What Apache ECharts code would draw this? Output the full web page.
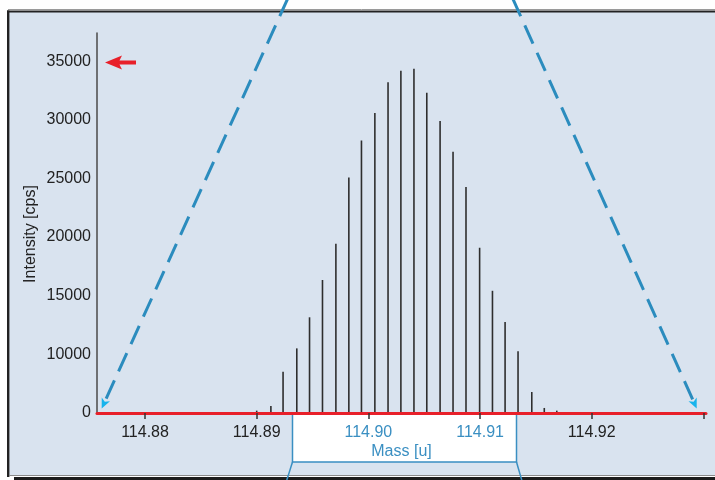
<!DOCTYPE html>
<html>
<head>
<meta charset="utf-8">
<script src="https://cdn.jsdelivr.net/npm/echarts@6/dist/echarts.min.js"></script>
<style>
html,body{margin:0;padding:0;background:#ffffff;}
#chart{width:715px;height:480px;}
</style>
</head>
<body>
<div id="chart"></div>
<script>
// ---- data ----
const peakMass = [
  114.89000, 114.89127, 114.89236, 114.89359, 114.89473, 114.89589,
  114.89709, 114.89825, 114.89938, 114.90058, 114.90176, 114.90291,
  114.90408, 114.90523, 114.90642, 114.90758, 114.90874, 114.90996,
  114.91111, 114.91224, 114.91340, 114.91463, 114.91575, 114.91687
];
const peakIntensity = [
  200, 600, 3520, 5510, 8160, 11340,
  14430, 20090, 23240, 25570, 28210, 29180,
  29350, 27300, 24890, 22270, 19260, 14090,
  10420, 7760, 5260, 1790, 430, 200
];
const xTickValues = [114.88, 114.89, 114.90, 114.91, 114.92, 114.93];
const xLabelValues = [114.88, 114.89, 114.90, 114.91, 114.92];
const xHighlightedLabels = [114.90, 114.91];
const yTickValues = [0, 5000, 10000, 15000, 20000, 25000, 30000];
const yTickLabels = ['0', '10000', '15000', '20000', '25000', '30000', '35000'];
const xAxisName = 'Mass [u]';
const yAxisName = 'Intensity [cps]';

// ---- styling ----
const FONT = "'Liberation Sans Narrow', 'Arial Narrow', 'Liberation Sans', sans-serif";
const DARK = '#222222';
const BLUE = '#3a8fc2';
const RED = '#e8202a';
const DASH = '#2b8cbe';
const CYAN = '#18b4ec';

const seriesData = peakMass.map((m, i) => [m, peakIntensity[i]]);

function arrowHead(x1, y1, x2, y2, len, half) {
  const dx = x2 - x1, dy = y2 - y1;
  const L = Math.sqrt(dx * dx + dy * dy);
  const ux = dx / L, uy = dy / L;
  const bx = x2 - ux * len, by = y2 - uy * len;
  const px = -uy, py = ux;
  return [[x2, y2], [bx + px * half, by + py * half], [bx + ux * 2.5, by + uy * 2.5], [bx - px * half, by - py * half]];
}
function shorten(x1, y1, x2, y2, d) {
  const dx = x2 - x1, dy = y2 - y1;
  const L = Math.sqrt(dx * dx + dy * dy);
  return [x2 - dx / L * d, y2 - dy / L * d];
}
const L0 = [288, -2], L1 = [101.7, 408.5];
const R0 = [512.5, -2], R1 = [696.7, 408.5];
const Lend = shorten(L0[0], L0[1], L1[0], L1[1], 6);
const Rend = shorten(R0[0], R0[1], R1[0], R1[1], 6);

const chart = echarts.init(document.getElementById('chart'), null, {renderer: 'canvas'});
chart.setOption({
  backgroundColor: '#ffffff',
  animation: false,
  grid: {left: 97, right: 9, top: 33, bottom: 67, containLabel: false},
  xAxis: {
    type: 'value',
    min: 114.87570,
    max: 114.93023,
    z: 3,
    splitLine: {show: false},
    axisLine: {show: true, onZero: false, lineStyle: {color: RED, width: 3}},
    axisTick: {show: true, customValues: xTickValues, length: 6, inside: false,
      lineStyle: {color: '#333333', width: 1.5}},
    axisLabel: {
      customValues: xLabelValues,
      margin: 12,
      fontSize: 16,
      fontFamily: FONT,
      formatter: function (v) { return Number(v).toFixed(2); },
      color: function (v) {
        const n = Number(v);
        return xHighlightedLabels.some(h => Math.abs(h - n) < 1e-6) ? BLUE : DARK;
      }
    }
  },
  yAxis: {
    type: 'value',
    min: 0,
    max: 32400,
    z: 3,
    splitLine: {show: false},
    axisLine: {show: true, lineStyle: {color: '#4a4a4a', width: 1.5}},
    axisTick: {show: false},
    axisLabel: {
      customValues: yTickValues,
      margin: 6,
      fontSize: 16,
      fontFamily: FONT,
      color: DARK,
      formatter: function (v) { return yTickLabels[Math.round(Number(v) / 5000)]; }
    }
  },
  series: [{
    type: 'bar',
    data: seriesData,
    barWidth: 1.6,
    itemStyle: {color: '#2e2e2e'},
    z: 2,
    silent: true
  }],
  graphic: [
    // panel background and frame
    {type: 'rect', z: -20, silent: true, shape: {x: 8, y: 11, width: 707, height: 465}, style: {fill: '#d9e3ef'}},
    {type: 'line', z: -19, silent: true, shape: {x1: 8, y1: 9.5, x2: 715, y2: 9.5}, style: {stroke: '#9a9a9a', lineWidth: 1}},
    {type: 'line', z: -19, silent: true, shape: {x1: 7, y1: 11.5, x2: 715, y2: 11.5}, style: {stroke: '#222222', lineWidth: 2}},
    {type: 'line', z: -19, silent: true, shape: {x1: 8.2, y1: 10.5, x2: 8.2, y2: 477}, style: {stroke: '#222222', lineWidth: 2.4}},
    {type: 'line', z: -19, silent: true, shape: {x1: 9, y1: 475.5, x2: 715, y2: 475.5}, style: {stroke: '#8a8a8a', lineWidth: 1}},
    {type: 'rect', z: -19, silent: true, shape: {x: 14, y: 477, width: 701, height: 3}, style: {fill: '#1c1c1c'}},
    // magnifier box
    {type: 'rect', z: -5, silent: true, shape: {x: 292.5, y: 413, width: 224, height: 49}, style: {fill: '#ffffff', stroke: BLUE, lineWidth: 1.5}},
    {type: 'line', z: -5, silent: true, shape: {x1: 292.5, y1: 462, x2: 286.5, y2: 481}, style: {stroke: BLUE, lineWidth: 1.5}},
    {type: 'line', z: -5, silent: true, shape: {x1: 516.5, y1: 462, x2: 522, y2: 481}, style: {stroke: BLUE, lineWidth: 1.5}},
    // dashed zoom lines with arrow heads
    {type: 'line', z: 10, silent: true, shape: {x1: L0[0], y1: L0[1], x2: Lend[0], y2: Lend[1]}, style: {stroke: DASH, lineWidth: 3, lineDash: [20, 10]}},
    {type: 'line', z: 10, silent: true, shape: {x1: R0[0], y1: R0[1], x2: Rend[0], y2: Rend[1]}, style: {stroke: DASH, lineWidth: 3, lineDash: [20, 10]}},
    {type: 'polygon', z: 11, silent: true, shape: {points: arrowHead(L0[0], L0[1], L1[0], L1[1], 10, 4.5)}, style: {fill: CYAN}},
    {type: 'polygon', z: 11, silent: true, shape: {points: arrowHead(R0[0], R0[1], R1[0], R1[1], 10, 4.5)}, style: {fill: CYAN}},
    // red arrow pointing at the 35000 label
    {type: 'polygon', z: 11, silent: true, shape: {points: [[105, 62.5], [122, 55.5], [119.5, 60.5], [136, 60.5], [136, 64.5], [119.5, 64.5], [122, 69.5]]}, style: {fill: RED}},
    // axis names
    {type: 'text', z: 11, silent: true, x: 31, y: 234, rotation: Math.PI / 2,
      style: {text: yAxisName, fill: DARK, font: '16px ' + FONT, align: 'center', verticalAlign: 'middle'}},
    {type: 'text', z: 11, silent: true, x: 401.5, y: 451.5,
      style: {text: xAxisName, fill: BLUE, font: '16px ' + FONT, align: 'center', verticalAlign: 'middle'}}
  ]
});
</script>
</body>
</html>
